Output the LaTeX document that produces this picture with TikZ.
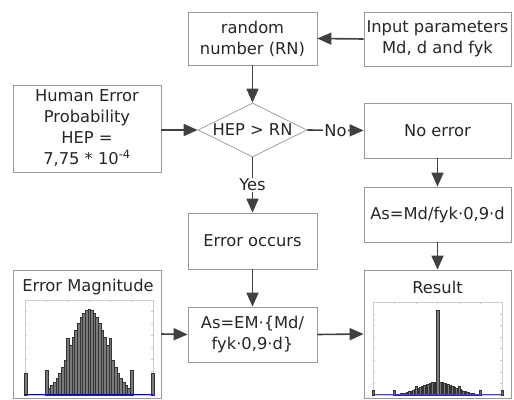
\documentclass[tikz,border=0pt]{standalone}
\usepackage{fontspec}
\setmainfont{DejaVu Sans}
\usetikzlibrary{shapes.geometric,arrows.meta}

\tikzset{
	box/.style={draw=black!40, line width=0.8pt, inner sep=0pt, align=center, text=black!85, font=\fontsize{16.3}{21}\selectfont},
	arr/.style={draw=black!75, line width=1.6pt, -{Triangle[length=14pt,width=12pt]}},
	lbl/.style={fill=white, inner sep=1pt, text=black!85, font=\fontsize{16.3}{21}\selectfont},
	barstyle/.style={fill=black!52, draw=black!80, line width=0.35pt},
	plotframe/.style={draw=black!20, line width=0.6pt},
}

\begin{document}
\begin{tikzpicture}[x=1pt, y=-1pt]
		\newcommand{\histbar}[5]{ % #1: centre x, #2: unit, #3: position, #4: height, #5: width
			\draw[barstyle] ({#1+#2*(#3)-#5/2},395) rectangle ({#1+#2*(#3)+#5/2},{395-#4});
		}
		\useasboundingbox (0,0) rectangle (514,399);
		
		%top row
		\node[box, minimum width=129pt, minimum height=53pt] (rn) at (252.5,38.5) {random\\number (RN)};
		\node[box, minimum width=147pt, minimum height=54pt] (inp) at (437.5,39) {Input parameters\\Md, d and fyk};
		
		%decision row
		\node[box, minimum width=148pt, minimum height=87pt] (hep) at (87,128.5) {Human Error\\Probability\\HEP =\\7,75 * 10\textsuperscript{-4}};
		\node[box, draw=black!40, line width=0.7pt, diamond, aspect=2, minimum width=109pt, minimum height=54pt] (dia) at (252.5,130) {HEP > RN};
		\node[box, minimum width=147pt, minimum height=55pt] (noerr) at (437.5,130.5) {No error};
		
		%middle
		\node[box, minimum width=147pt, minimum height=55pt] (asmd) at (437.5,214.5) {As=Md/fyk·0,9·d};
		\node[box, minimum width=129pt, minimum height=56pt] (errocc) at (252.5,241) {Error occurs};
		
		%bottom row
		\node[box, minimum width=148pt, minimum height=128pt] (em) at (87,334) {};
		\node[box, draw=none] (emtitle) at (88,287) {Error Magnitude};
		\node[box, minimum width=129pt, minimum height=55pt] (asem) at (252.5,334.5) {As=EM·\{Md/\\fyk·0,9·d\}};
		\node[box, minimum width=147pt, minimum height=128pt] (result) at (437.5,334) {};
		\node[box, draw=none] (restitle) at (437.5,287) {Result};
		
		%connectors
		\draw[arr] (inp.west) -- (rn.east);
		\draw[arr] (rn.south) -- (dia.north);
		\draw[arr] (hep.east |- dia.west) -- (dia.west);
		\draw[arr] (dia.east) -- node[lbl] {No} (noerr.west);
		\draw[arr] (dia.south) -- node[lbl] {Yes} (errocc.north);
		\draw[arr] (noerr.south) -- (asmd.north);
		\draw[arr] (asmd.south) -- (result.north);
		\draw[arr] (errocc.south) -- (asem.north);
		\draw[arr] (em.east) -- (asem.west);
		\draw[arr] (asem.east) -- (result.west);
		
		%error magnitude histogram
		\draw[plotframe] (25,300) rectangle (153,395);
		\foreach \t in {0,...,6} {
			\draw[plotframe] ({25+21.33*\t},300) -- ({25+21.33*\t},302);
		}
		\foreach \t in {1,...,7} {
			\draw[plotframe] (25,{395-11.9*\t}) -- (27,{395-11.9*\t});
			\draw[plotframe] (153,{395-11.9*\t}) -- (151,{395-11.9*\t});
		}
		\foreach \u in {-2,-1.875,...,2} {
			\pgfmathsetmacro\h{86*exp(-(\u)*(\u)/1.4)}
			\histbar{89}{21.2}{\u}{\h}{2.65}
		}
		\histbar{89}{21.2}{-1}{57}{2.65}
		\histbar{89}{21.2}{1}{57}{2.65}
		\histbar{89}{21.2}{-2}{25}{2.65}
		\histbar{89}{21.2}{2}{25}{2.65}
		\histbar{89}{21.2}{-3}{22}{2.65}
		\histbar{89}{21.2}{3}{22}{2.65}
		\draw[blue!70!black, line width=0.9pt] (25,394.5) -- (153,394.5);
		
		%result histogram
		\draw[plotframe] (373,302) rectangle (502,395);
		\foreach \t in {0,...,6} {
			\draw[plotframe] ({373+21.5*\t},302) -- ({373+21.5*\t},304);
		}
		\foreach \t in {1,...,7} {
			\draw[plotframe] (373,{395-11.6*\t}) -- (375,{395-11.6*\t});
			\draw[plotframe] (502,{395-11.6*\t}) -- (500,{395-11.6*\t});
		}
		\foreach \u in {-1.875,-1.8125,...,1.875} {
			\pgfmathsetmacro\h{13*exp(-(\u)*(\u)/1.28)}
			\histbar{437.5}{21.5}{\u}{\h}{1.34}
		}
		\histbar{437.5}{21.5}{0}{85}{3}
		\histbar{437.5}{21.5}{-1}{9}{2.2}
		\histbar{437.5}{21.5}{1}{9}{2.2}
		\histbar{437.5}{21.5}{-2}{5}{2.2}
		\histbar{437.5}{21.5}{2}{5}{2.2}
		\histbar{437.5}{21.5}{-3}{5}{2.2}
		\histbar{437.5}{21.5}{3}{5}{2.2}
		\draw[blue!45!gray, line width=0.8pt] (373,394.5) -- (502,394.5);
		
	\end{tikzpicture}
\end{document}
